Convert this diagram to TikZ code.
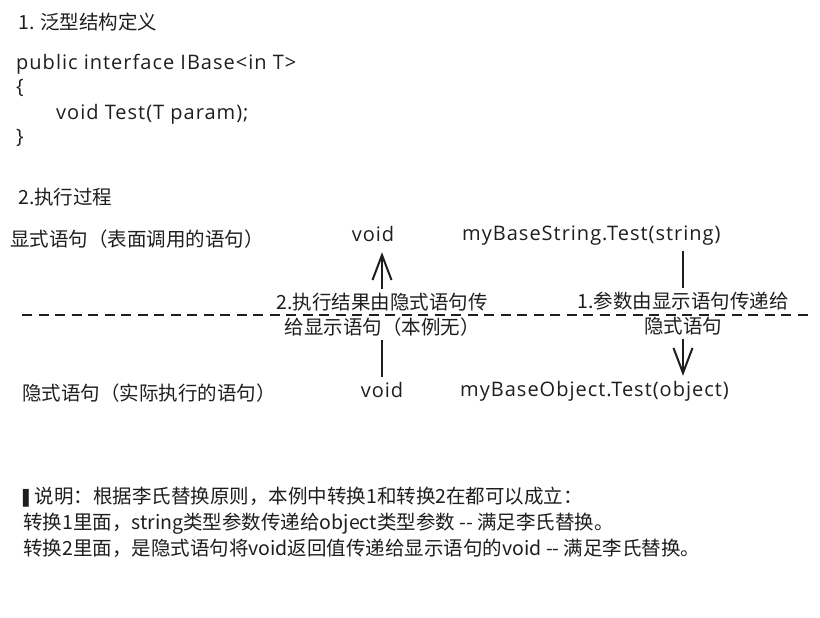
\documentclass[tikz,border=0pt]{standalone}
\usepackage{fontspec}
\setmainfont{Noto Sans CJK SC}
\newfontfamily\blockfont{DejaVu Sans}
\newfontfamily\latinfont[LetterSpace=5]{Open Sans}
\usetikzlibrary{arrows.meta}
\definecolor{ink}{HTML}{1E1E1E}

\begin{document}
\begin{tikzpicture}[x=1pt,y=-1pt,
  txt/.style={anchor=west,inner sep=0pt,text=ink,font=\fontsize{19.5}{26}\selectfont},
  code/.style={anchor=base west,inner sep=0pt,text=ink,font=\latinfont\fontsize{20}{20}\selectfont},
  call/.style={inner sep=5pt,text height=15pt,text depth=6pt,text=ink,font=\latinfont\fontsize{20}{20}\selectfont},
  lbl/.style={fill=white,inner sep=4pt,align=center,text=ink,font=\fontsize{19.5}{25}\selectfont},
  flow/.style={ink,line width=2.6pt,-{Straight Barb[length=25pt,width=19pt,line width=2pt]}}]
  \useasboundingbox (0,0) rectangle (820,618);

  % 1. definition
  \node[txt] (ttl1) at (18,22) {1. 泛型结构定义};
  \node[code] (c1) at (16,70) {public interface IBase<in T>};
  \node[code] (c2) at (16,94) {\{};
  \node[code] (c3) at (56,120) {void Test(T param);};
  \node[code] (c4) at (16,143) {\}};

  % 2. process
  \node[txt] (ttl2) at (18,197) {2.执行过程};
  \node[txt] (expl) at (10,239) {显式语句（表面调用的语句）};
  \node[txt] (impl) at (22,393) {隐式语句（实际执行的语句）};

  \node[call,anchor=base] (vup) at (373,241) {void};
  \node[call,anchor=base west] (str) at (457,240) {myBaseString.Test(string)};
  \node[call,anchor=base] (vlo) at (382,397) {void};
  \node[call,anchor=base west] (obj) at (455,396) {myBaseObject.Test(object)};

  \coordinate (ax) at (683,0);
  \draw[flow] (vlo.north) -- node[lbl] (ret) {2.执行结果由隐式语句传\\给显示语句（本例无）} (vlo.north |- vup.south);
  \draw[flow] (str.south -| ax) -- node[lbl] (arg) {1.参数由显示语句传递给\\隐式语句} (obj.north -| ax);

  % divider
  \coordinate (dl) at (22,315);
  \coordinate (dr) at (812,315);
  \draw[ink,line width=1.5pt,dash pattern=on 10pt off 6.5pt] (dl) -- (dr);

  % note
  \node[txt,align=left] (note) at (23,522) {{\blockfont\fontsize{15}{15}\selectfont ▌}说明：根据李氏替换原则，本例中转换1和转换2在都可以成立：\\
    转换1里面，string类型参数传递给object类型参数 -{}- 满足李氏替换。\\
    转换2里面，是隐式语句将void返回值传递给显示语句的void -{}- 满足李氏替换。};
\end{tikzpicture}
\end{document}
